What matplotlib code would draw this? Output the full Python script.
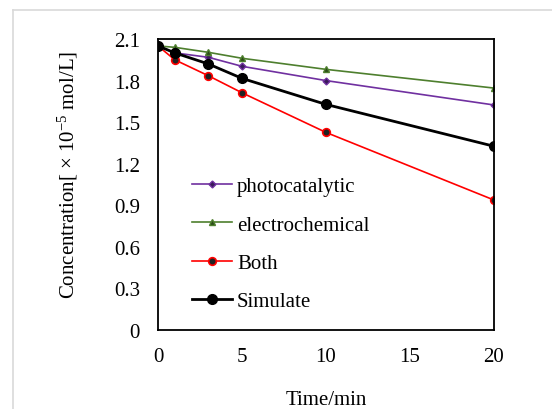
import matplotlib
matplotlib.use("Agg")
import matplotlib.pyplot as plt
from matplotlib.lines import Line2D

time = [0, 1, 3, 5, 10, 20]
photocatalytic = [2.05, 2.00, 1.968, 1.903, 1.80, 1.624]
electrochemical = [2.05, 2.04, 2.004, 1.961, 1.881, 1.746]
both = [2.05, 1.95, 1.835, 1.712, 1.426, 0.938]
simulate = [2.05, 2.00, 1.92, 1.816, 1.628, 1.326]

yticks = [0, 0.3, 0.6, 0.9, 1.2, 1.5, 1.8, 2.1]
ytick_labels = ["0", "0.3", "0.6", "0.9", "1.2", "1.5", "1.8", "2.1"]
xticks = [0, 5, 10, 15, 20]

plt.rcParams['font.family'] = ['Liberation Serif', 'DejaVu Serif']
plt.rcParams['mathtext.fontset'] = 'custom'
plt.rcParams['mathtext.rm'] = 'Liberation Serif'
plt.rcParams['mathtext.it'] = 'Liberation Serif:italic'

FS = 15

fig = plt.figure(figsize=(5.52, 4.10), dpi=100)
ax = fig.add_axes([0.2862, 0.1927, 0.6087, 0.7097])

# light gray chart-area border (left and top)
fig.add_artist(Line2D([13/552, 13/552], [0, 1 - 11/410], color='#d9d9d9', lw=1.2, transform=fig.transFigure))
fig.add_artist(Line2D([13/552, 1], [1 - 11/410, 1 - 11/410], color='#d9d9d9', lw=1.2, transform=fig.transFigure))

ax.plot(time, photocatalytic, color='#7030a0', lw=1.2, marker='D', ms=3.5,
        mfc='#3a1a5a', mec='#7030a0', label='photocatalytic')
ax.plot(time, electrochemical, color='#4e7f2e', lw=1.2, marker='^', ms=5,
        mfc='#2a4a18', mec='#4e7f2e', label='electrochemical')
ax.plot(time, both, color='#ff0000', lw=1.2, marker='o', ms=5.5,
        mfc='#222222', mec='#ff0000', mew=1.2, label='Both')
ax.plot(time, simulate, color='black', lw=2, marker='o', ms=7,
        mfc='black', mec='black', label='Simulate')

ax.set_xlim(0, 20)
ax.set_ylim(0, 2.1)
ax.set_xticks(xticks)
ax.set_xticklabels([str(t) for t in xticks])
ax.set_yticks(yticks)
ax.set_yticklabels(ytick_labels)
ax.tick_params(axis='both', length=0, labelsize=FS)
ax.tick_params(axis='x', pad=12.5)
ax.tick_params(axis='y', pad=13)
for s in ax.spines.values():
    s.set_color('black')
    s.set_linewidth(1.3)

ax.set_xlabel('Time/min', fontsize=FS, labelpad=17)
ax.set_ylabel(r'Concentration[ × 10$^{\mathregular{-5}}$ mol/L]', fontsize=FS)
ax.yaxis.set_label_coords(-0.233, 0.538)

leg = ax.legend(loc='upper left', bbox_to_anchor=(0.077, 0.555), frameon=False,
                fontsize=FS, handlelength=1.9, handletextpad=0.25, labelspacing=0.9,
                borderaxespad=0)

fig.savefig('out.png', dpi=100, facecolor='white')
